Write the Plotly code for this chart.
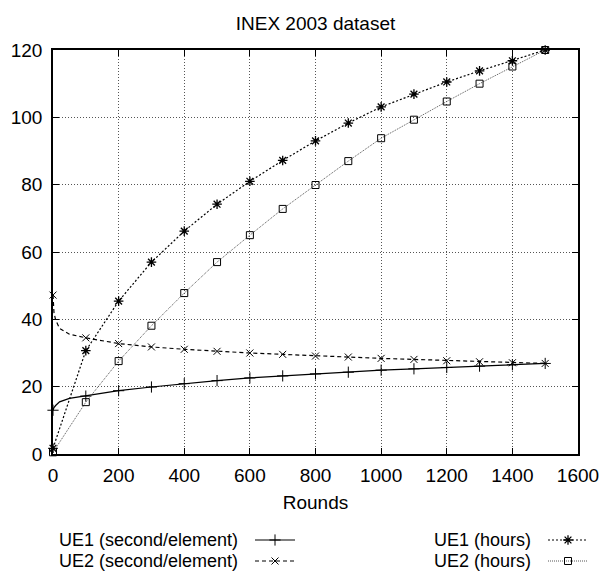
import plotly.graph_objects as go

# ---------- data ----------
rounds = [0, 100, 200, 300, 400, 500, 600, 700, 800, 900, 1000, 1100, 1200, 1300, 1400, 1500]

ue1_sec = [13.0, 17.2, 18.8, 19.9, 20.9, 21.8, 22.6, 23.2, 23.8, 24.3, 24.9, 25.3, 25.7, 26.1, 26.5, 26.9]
ue2_sec = [47.2, 34.5, 32.8, 31.8, 31.1, 30.5, 30.0, 29.6, 29.1, 28.8, 28.4, 28.1, 27.7, 27.4, 27.1, 26.9]
ue1_hours = [1.7, 30.7, 45.4, 57.0, 66.2, 74.2, 81.0, 87.2, 93.0, 98.3, 103.1, 106.9, 110.5, 113.8, 116.8, 120.0]
ue2_hours = [0.5, 15.4, 27.6, 38.1, 47.8, 57.0, 65.0, 72.8, 79.9, 87.0, 93.8, 99.3, 104.7, 110.0, 115.1, 120.0]

# extra curve samples near the start (the per-element curves bend sharply there)
early_rounds = [3, 8, 20, 50]
ue1_sec_early = [13.8, 14.4, 15.5, 16.5]
ue2_sec_early = [42.0, 39.8, 37.3, 35.6]

series_names = ["UE1 (second/element)", "UE2 (second/element)", "UE1 (hours)", "UE2 (hours)"]

x_ticks = [0, 200, 400, 600, 800, 1000, 1200, 1400, 1600]
y_ticks = [0, 20, 40, 60, 80, 100, 120]

FONT = "Liberation Sans, Arial, Helvetica, sans-serif"
FS = 19
FS_LEG = 18

# plot-area geometry in pixels (used only for placing the legend pieces)
L, T, W, H = 53, 50, 525, 404


def dense(x_main, y_main, x_extra, y_extra):
    pts = sorted(list(zip(x_main, y_main)) + list(zip(x_extra, y_extra)))
    return [p[0] for p in pts], [p[1] for p in pts]


styles = [
    (dict(color="black", width=1.2, dash="solid"),
     dict(symbol="cross-thin", size=8, line=dict(color="black", width=1))),
    (dict(color="black", width=1.2, dash="4px,3px"),
     dict(symbol="x-thin", size=7, line=dict(color="black", width=1))),
    (dict(color="black", width=1.2, dash="2px,2px"),
     dict(symbol="asterisk", size=8, line=dict(color="black", width=1.3))),
    (dict(color="#555555", width=1, dash="1px,1px"),
     dict(symbol="square-open", size=7, color="black", line=dict(color="black", width=1))),
]
data = [
    (rounds, ue1_sec, early_rounds, ue1_sec_early),
    (rounds, ue2_sec, early_rounds, ue2_sec_early),
    (rounds, ue1_hours, [], []),
    (rounds, ue2_hours, [], []),
]

fig = go.Figure()
for name, (xs, ys, xe, ye), (line, marker) in zip(series_names, data, styles):
    dx, dy = dense(xs, ys, xe, ye)
    fig.add_trace(go.Scatter(x=dx, y=dy, mode="lines", line=line, showlegend=False,
                             hoverinfo="skip", cliponaxis=False))
    fig.add_trace(go.Scatter(x=xs, y=ys, mode="markers", marker=marker, showlegend=False,
                             name=name, cliponaxis=False))

# legend: gnuplot style, label text right-aligned and the sample to its right
# (label px-right, row px-centre, sample px-left)
legend_slots = [(240, 540, 250), (240, 561, 250), (533, 540, 543), (533, 561, 543)]
legend_ids = ["legend", "legend2", "legend3", "legend4"]
legend_layout = {}
for idx, name in enumerate(series_names):
    line, marker = styles[idx]
    lx, ly, sx = legend_slots[idx]
    fig.add_trace(go.Scatter(x=[None], y=[None], mode="lines+markers", name="",
                             legend=legend_ids[idx], line=line, marker=marker,
                             hoverinfo="skip"))
    fig.add_annotation(text=name, xref="paper", yref="paper",
                       x=(lx - L) / W, y=(T + H - ly) / H,
                       xanchor="right", yanchor="middle", showarrow=False,
                       font=dict(family=FONT, size=FS_LEG, color="black"))
    legend_layout[legend_ids[idx]] = dict(
        orientation="h", xanchor="left", yanchor="middle",
        x=(sx - L) / W, y=(T + H - ly) / H,
        itemwidth=40, font=dict(family=FONT, size=12, color="black"),
        bgcolor="rgba(0,0,0,0)", borderwidth=0)

axis_common = dict(
    showline=True, linecolor="black", linewidth=1.5, mirror="ticks",
    ticks="inside", ticklen=6, tickcolor="black",
    showgrid=True, gridcolor="#555555", griddash="1px,2px", gridwidth=1,
    zeroline=False, tickfont=dict(family=FONT, size=FS, color="black"),
)

fig.update_xaxes(range=[0, 1600], tickvals=x_ticks, ticklabelstandoff=3,
                 title=dict(text="Rounds", font=dict(family=FONT, size=FS, color="black"),
                            standoff=11),
                 **axis_common)
fig.update_yaxes(range=[0, 120], tickvals=y_ticks, ticklabelstandoff=5, **axis_common)

fig.update_layout(
    width=603, height=572,
    margin=dict(l=L, r=603 - L - W, t=T, b=572 - T - H, autoexpand=False),
    paper_bgcolor="white", plot_bgcolor="white",
    title=dict(text="INEX 2003 dataset", x=0.5, xref="paper", y=1 - 23 / 572,
               yref="container", yanchor="middle",
               font=dict(family=FONT, size=FS, color="black")),
    font=dict(family=FONT, color="black"),
    **legend_layout,
)

fig.write_html("out.html", config={"displayModeBar": False},
               post_script="document.body.style.margin='0';")
